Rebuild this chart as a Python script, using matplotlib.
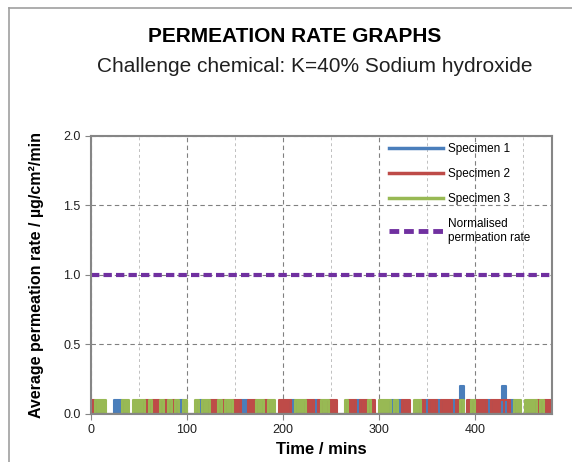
import numpy as np
import matplotlib.pyplot as plt
from matplotlib.lines import Line2D

# data: values read per 4-minute bin, digit = rate in units of 0.1 ug/cm2/min
bin_minutes = 4
spec1 = ("00000011000000000000" "00010000100000000001" "10000000000010000010"
         "00000000010000000010" "10000001001000102000" "00010002010000000000")
spec2 = ("10000000000000101101" "01000000000110100110" "01100100011100001101"
         "00110001101101000000" "01100010110111010010" "11101111100000001011")
spec3 = ("01110000110111010010" "10101001011001011000" "00011011000001110000"
         "11000010000010011101" "00001100000000001001" "00000000001101110100")
normalised_rate = [1.0, 1.0]
normalised_time = [0, 480]

labels = ["Specimen 1", "Specimen 2", "Specimen 3"]
colors = ["#4a7ebb", "#be4b48", "#98b954"]
purple = "#7030a0"

plt.rcParams['font.family'] = ['Liberation Sans', 'DejaVu Sans']

fig = plt.figure(figsize=(5.72, 4.62), dpi=100)
ax = fig.add_axes([0.159, 0.104, 0.806, 0.602])

for s, c in zip([spec1, spec2, spec3], colors):
    v = np.array([int(ch) * 0.1 for ch in s])
    v = np.append(v, v[-1])
    t = np.arange(len(v)) * bin_minutes
    ax.fill_between(t, 0, v, step='post', color=c, lw=0)
    ax.step(t, v, where='post', color=c, lw=1.5)

ax.plot(normalised_time, normalised_rate, color=purple, lw=3, dashes=(2, 1))

ax.set_xlim(0, 480)
ax.set_ylim(0, 2.0)
ax.set_xticks([0, 100, 200, 300, 400])
ax.set_xticks([50, 150, 250, 350, 450], minor=True)
ax.set_yticks([0, 0.5, 1.0, 1.5, 2.0])
ax.set_yticklabels(["0.0", "0.5", "1.0", "1.5", "2.0"])
ax.grid(which='major', color='#808080', ls=(0, (4, 3)), lw=0.8)
ax.grid(which='minor', axis='x', color='#c0c0c0', ls=(0, (3, 3)), lw=0.7)
ax.tick_params(which='both', direction='out', length=4, color='#868686',
               labelsize=9, labelcolor='#202020')
ax.tick_params(which='minor', length=0)
for sp in ax.spines.values():
    sp.set_color('#868686')
    sp.set_linewidth(1.5)
ax.set_axisbelow(True)

ax.set_xlabel("Time / mins", fontsize=12, fontweight='bold', labelpad=4)
ax.set_ylabel("Average permeation rate / µg/cm²/min", fontsize=11.5,
              fontweight='bold', labelpad=14)

handles = [Line2D([], [], color=c, lw=2.5) for c in colors]
handles.append(Line2D([], [], color=purple, lw=3.5, dashes=(2, 1)))
ax.legend(handles, labels + ["Normalised\npermeation rate"], loc='upper right',
          bbox_to_anchor=(0.968, 1.0), frameon=False, fontsize=8.5,
          handlelength=4.6, labelspacing=1.1, borderaxespad=0.2,
          handletextpad=0.4)

fig.text(0.515, 0.922, "PERMEATION RATE GRAPHS", fontsize=15, fontweight='bold',
         ha='center', va='center')
fig.text(0.55, 0.855, "Challenge chemical: K=40% Sodium hydroxide", fontsize=15,
         ha='center', va='center', color='#202020')

# page frame lines
fig.add_artist(Line2D([9 / 572, 1], [1 - 8 / 462, 1 - 8 / 462], color='#a0a0a0', lw=1.2))
fig.add_artist(Line2D([9 / 572, 9 / 572], [0, 1 - 8 / 462], color='#a0a0a0', lw=1.2))

fig.savefig("out.png", dpi=100)
